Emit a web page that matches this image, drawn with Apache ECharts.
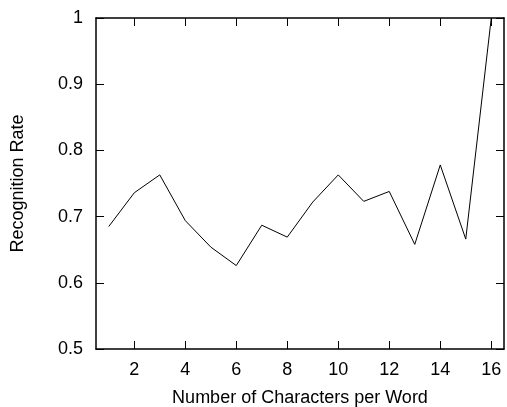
<!DOCTYPE html>
<html>
<head>
<meta charset="utf-8">
<script src="https://cdn.jsdelivr.net/npm/echarts@6/dist/echarts.min.js"></script>
<style>
  html, body { margin: 0; padding: 0; background: #fff; }
  #chart { width: 507px; height: 407px; }
</style>
</head>
<body>
<div id="chart"></div>
<script>
// Word length (characters) and recognition rate
const charsPerWord = [1, 2, 3, 4, 5, 6, 7, 8, 9, 10, 11, 12, 13, 14, 15, 16];
const recognitionRate = [0.685, 0.736, 0.763, 0.694, 0.654, 0.626, 0.687, 0.669, 0.722, 0.763, 0.723, 0.738, 0.658, 0.778, 0.666, 1.0];
const xTicks = [2, 4, 6, 8, 10, 12, 14, 16];
const yTicks = [0.5, 0.6, 0.7, 0.8, 0.9, 1];

const font = 'Liberation Sans, Arial, Helvetica, sans-serif';
const black = '#000';

const chart = echarts.init(document.getElementById('chart'), null, { renderer: 'canvas' });

const frameLine = { show: true, lineStyle: { color: black, width: 1.5 } };
const innerTick = { show: true, inside: true, length: 8, lineStyle: { color: black, width: 1 } };

chart.setOption({
  animation: false,
  backgroundColor: '#fff',
  grid: { left: 96, top: 18, right: 3, bottom: 58, containLabel: false, outerBoundsMode: 'none' },
  xAxis: [
    {
      type: 'value', position: 'bottom', min: 0.5, max: 16.5,
      axisLine: frameLine,
      axisTick: Object.assign({ customValues: xTicks }, innerTick),
      axisLabel: { customValues: xTicks, color: black, fontFamily: font, fontSize: 18, margin: 12 },
      splitLine: { show: false },
      name: 'Number of Characters per Word',
      nameLocation: 'middle', nameGap: 40,
      nameTextStyle: { color: black, fontFamily: font, fontSize: 18 }
    },
    {
      type: 'value', position: 'top', min: 0.5, max: 16.5,
      axisLine: frameLine,
      axisTick: Object.assign({ customValues: xTicks }, innerTick),
      axisLabel: { show: false },
      splitLine: { show: false }
    }
  ],
  yAxis: [
    {
      type: 'value', position: 'left', min: 0.5, max: 1, interval: 0.1,
      axisLine: frameLine,
      axisTick: Object.assign({ customValues: yTicks }, innerTick),
      axisLabel: { customValues: yTicks, color: black, fontFamily: font, fontSize: 18, margin: 13 },
      splitLine: { show: false },
      name: 'Recognition Rate',
      nameLocation: 'middle', nameGap: 69, nameRotate: 90,
      nameTextStyle: { color: black, fontFamily: font, fontSize: 18 }
    },
    {
      type: 'value', position: 'right', min: 0.5, max: 1, interval: 0.1,
      axisLine: frameLine,
      axisTick: Object.assign({ customValues: yTicks }, innerTick),
      axisLabel: { show: false },
      splitLine: { show: false }
    }
  ],
  series: [
    {
      type: 'line',
      data: charsPerWord.map((c, i) => [c, recognitionRate[i]]),
      showSymbol: false,
      lineStyle: { color: black, width: 1 },
      clip: false
    }
  ]
});
</script>
</body>
</html>
